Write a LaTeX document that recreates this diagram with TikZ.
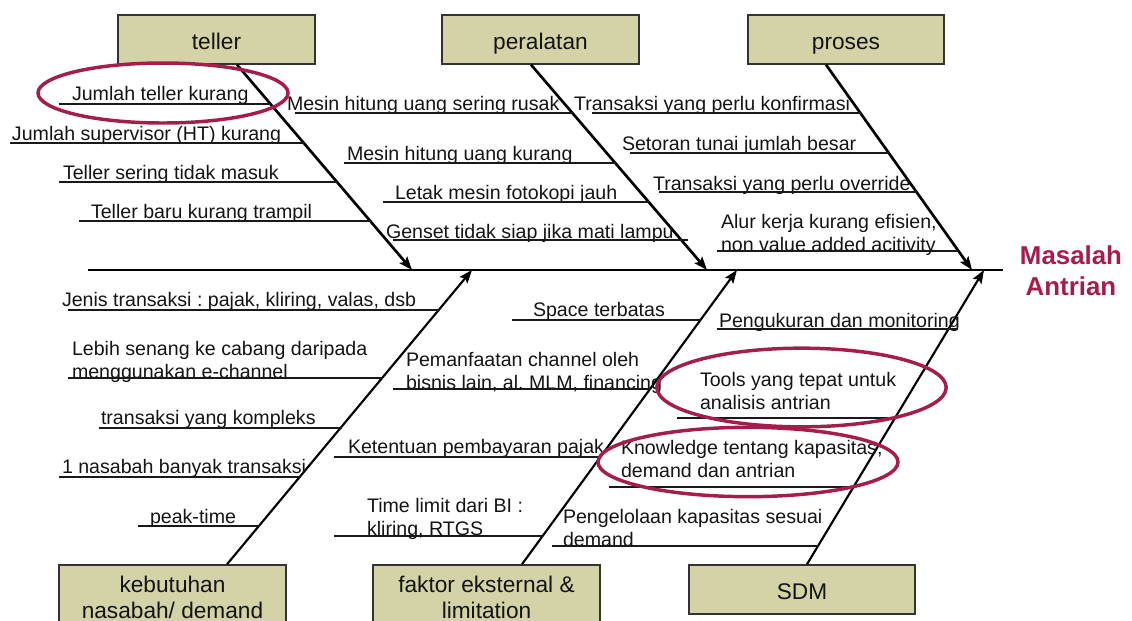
\documentclass[tikz,border=0pt]{standalone}
\usepackage{fontspec}
\setmainfont{Liberation Sans}
\usetikzlibrary{arrows.meta,shapes.geometric}
\definecolor{boxfill}{RGB}{211,211,167}
\definecolor{crim}{RGB}{165,30,75}
\definecolor{ink}{RGB}{20,20,20}
\frenchspacing
\begin{document}
\begin{tikzpicture}[x=0.75pt,y=-0.75pt,
  cause/.style={anchor=base west, inner sep=0pt, outer sep=0pt, text=ink, font=\fontsize{14.7}{17.25}\selectfont, align=left},
  uline/.style={line width=1.1pt, black!90},
  cat/.style={draw=black!80, line width=1.1pt, fill=boxfill, text=ink, font=\fontsize{17}{19.5}\selectfont, align=center, inner sep=0pt},
  oneline/.style={text height=19.3pt, text depth=3.6pt},
  boxtext/.style={font=\fontsize{17}{19.5}\selectfont, text=ink, align=center, inner sep=0pt},
  bone/.style={line width=2pt, -{Stealth[length=10pt,width=7.5pt,inset=2pt]}},
  lbone/.style={line width=1.6pt, -{Stealth[length=10pt,width=7.5pt,inset=2pt]}},
  spine/.style={line width=1.3pt},
  hl/.style={ellipse, draw=crim, line width=2.6pt, inner sep=0pt},
]
\useasboundingbox (0,0) rectangle (1132,621);
\clip (0,0) rectangle (1132,621);

% category boxes
\node[cat, oneline, minimum width=147.75pt, minimum height=36.75pt] (teller) at (216.5,39.5) {teller};
\node[cat, oneline, minimum width=147.75pt, minimum height=36.75pt] (peralatan) at (540.5,39.5) {peralatan};
\node[cat, oneline, minimum width=147pt, minimum height=36.75pt] (proses) at (846,39.5) {proses};
\node[cat, minimum width=170.25pt, minimum height=48pt] (kebutuhan) at (172.5,597) {};
\node[cat, minimum width=170.25pt, minimum height=48pt] (faktor) at (486.5,597) {};
\node[cat, oneline, minimum width=169.5pt, minimum height=36.75pt] (sdm) at (802,589.5) {SDM};
\node[boxtext] (kebtext) at (172.5,597) {kebutuhan\\nasabah/ demand};
\node[boxtext] (faktext) at (486.5,597) {faktor eksternal \&\\limitation};

% spine and head
\coordinate (sL) at (88,270);
\coordinate (sR) at (1003,270);
\draw[spine] (sL) -- (sR);
\node[font=\bfseries\fontsize{19.4}{23.25}\selectfont, text=crim, align=center, inner sep=0pt] (head) at (1071,271) {Masalah\\Antrian};

% bone tips on spine
\coordinate (tipT) at (412,270);
\coordinate (tipP) at (707,270);
\coordinate (tipR) at (972,270);
\coordinate (tipK) at (472,270);
\coordinate (tipF) at (737,270);
\coordinate (tipS) at (984,270);

\draw[bone] ([xshift=15.4pt]teller.south) -- (tipT);
\draw[bone] ([xshift=-7.1pt]peralatan.south) -- (tipP);
\draw[bone] ([xshift=-15pt]proses.south) -- (tipR);
\draw[lbone] ([xshift=40.9pt]kebutuhan.north) -- (tipK);
\draw[lbone] ([xshift=26.6pt]faktor.north) -- (tipF);
\draw[lbone] ([xshift=3.75pt]sdm.north) -- (tipS);

% teller causes
\node[cause] (t1) at (72,100) {Jumlah teller kurang};
\draw[uline] (59,104) -- (271,104);
\node[cause] (t2) at (12,140) {Jumlah supervisor (HT) kurang};
\draw[uline] (10,143) -- (304,143);
\node[cause] (t3) at (63,179) {Teller sering tidak masuk};
\draw[uline] (59,182) -- (337,182);
\node[cause] (t4) at (91,218) {Teller baru kurang trampil};
\draw[uline] (79,221) -- (371,221);

% peralatan causes
\node[cause] (p1) at (287,110) {Mesin hitung uang sering rusak};
\draw[uline] (295,113) -- (573,113);
\node[cause] (p2) at (347,160) {Mesin hitung uang kurang};
\draw[uline] (344,163) -- (616,163);
\node[cause] (p3) at (395,199) {Letak mesin fotokopi jauh};
\draw[uline] (383,202) -- (649,202);
\node[cause] (p4) at (386,238) {Genset tidak siap jika mati lampu};
\draw[uline] (393,240) -- (688,240);

% proses causes
\node[cause] (r1) at (574,110) {Transaksi yang perlu konfirmasi};
\draw[uline] (592,113) -- (861,113);
\node[cause] (r2) at (622,150) {Setoran tunai jumlah besar};
\draw[uline] (630,153) -- (889,153);
\node[cause] (r3) at (653,190) {Transaksi yang perlu override};
\draw[uline] (659,192) -- (917,192);
\node[cause] (r4) at (721,251) {Alur kerja kurang efisien,\\non value added acitivity};
\draw[uline] (717,251) -- (959,251);

% kebutuhan causes
\node[cause] (k1) at (62,306) {Jenis transaksi : pajak, kliring, valas, dsb};
\draw[uline] (68,310) -- (440,310);
\node[cause] (k2) at (72,378) {Lebih senang ke cabang daripada\\menggunakan e-channel};
\draw[uline] (68,378) -- (383,378);
\node[cause] (k3) at (101,424) {transaksi yang kompleks};
\draw[uline] (99,428) -- (342,428);
\node[cause] (k4) at (62,473) {1 nasabah banyak transaksi};
\draw[uline] (59,477) -- (301,477);
\node[cause] (k5) at (150,523) {peak-time};
\draw[uline] (138,526) -- (260,526);

% faktor causes
\node[cause] (f1) at (533,316) {Space terbatas};
\draw[uline] (512,320) -- (701,320);
\node[cause] (f2) at (406,389) {Pemanfaatan channel oleh\\bisnis lain, al. MLM, financing};
\draw[uline] (393,389) -- (651,389);
\node[cause] (f3) at (348,453) {Ketentuan pembayaran pajak};
\draw[uline] (334,457) -- (601,457);
\node[cause] (f4) at (367,535) {Time limit dari BI :\\kliring, RTGS};
\draw[uline] (334,536) -- (543,536);

% SDM causes
\node[cause] (s1) at (719,327) {Pengukuran dan monitoring};
\draw[uline] (717,329) -- (958,329);
\node[cause] (s2) at (700,409) {Tools yang tepat untuk\\analisis antrian};
\draw[uline] (677,418) -- (895,418);
\node[cause] (s3) at (621,477) {Knowledge tentang kapasitas,\\demand dan antrian};
\draw[uline] (609,487) -- (854,487);
\node[cause] (s4) at (563,546) {Pengelolaan kapasitas sesuai\\demand};
\draw[uline] (552,546) -- (818,546);

% highlight ellipses
\node[hl, minimum width=187.5pt, minimum height=45pt] (e1) at (163,93) {};
\node[hl, minimum width=217pt, minimum height=59pt] (e2) at (801.5,387.5) {};
\node[hl, minimum width=225pt, minimum height=52pt] (e3) at (748,462) {};
\end{tikzpicture}
\end{document}
